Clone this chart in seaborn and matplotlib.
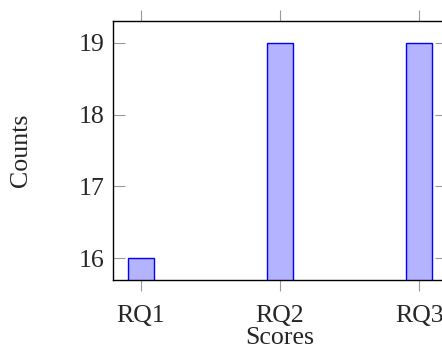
import matplotlib
matplotlib.use("Agg")
import matplotlib.pyplot as plt
import seaborn as sns
import pandas as pd

categories = ["RQ1", "RQ2", "RQ3"]
counts = [16, 19, 19]
y_ticks = [16, 17, 18, 19]

sns.set_style("white")
plt.rcParams["font.family"] = ["Liberation Serif", "DejaVu Serif"]
fs = 18.6

df = pd.DataFrame({"Scores": categories, "Counts": counts})

W, H = 442, 348
fig = plt.figure(figsize=(W / 100, H / 100), dpi=100)
ax = fig.add_axes([113 / W, (H - 280) / H, (447 - 113) / W, (280 - 21) / H])

sns.barplot(data=df, x="Scores", y="Counts", ax=ax, width=0.19,
            color="#b3b3ff", edgecolor="#0000ff", linewidth=1.0,
            saturation=1)

ax.set_xlim(-0.2, 2.2)
ax.set_ylim(15.7, 19.3)
ax.set_yticks(y_ticks)
ax.set_yticklabels([str(v) for v in y_ticks])

for s in ax.spines.values():
    s.set_color("black")
    s.set_linewidth(1.0)
    s.set_visible(True)

ax.tick_params(axis="y", which="both", direction="in", left=True, right=True,
               length=8.6, width=0.8, color="#999999", pad=6, labelsize=fs)
ax.tick_params(axis="x", which="both", direction="out", bottom=True, top=True,
               length=8, width=0.8, color="#999999", pad=10, labelsize=fs)

ax.set_xlabel("Scores", fontsize=fs, labelpad=0)
ax.set_ylabel("Counts", fontsize=fs, labelpad=34)

fig.savefig("out.png", dpi=100)
